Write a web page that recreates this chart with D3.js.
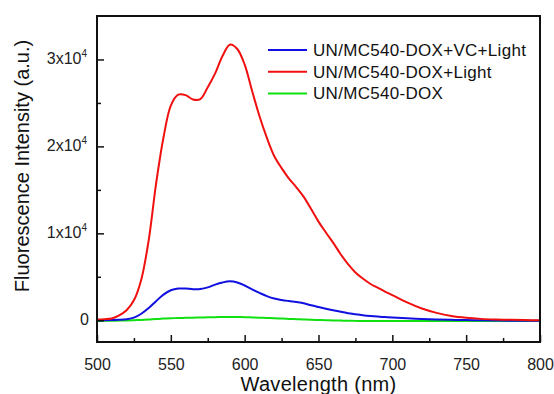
<!DOCTYPE html>
<html>
<head>
<meta charset="utf-8">
<script src="https://cdn.jsdelivr.net/npm/d3@7"></script>
<style>
  body { margin: 0; background: #fff; }
  svg { display: block; font-family: "Liberation Sans", Arial, sans-serif; }
</style>
</head>
<body>
<script>
const wavelengths = [500,505,510,515,520,525,530,535,540,545,550,555,560,565,570,575,580,585,590,595,
  600,605,610,615,620,625,630,635,640,645,650,655,660,665,670,675,680,685,690,695,700,
  710,720,730,740,750,760,770,780,790,800];

const redValues = [80,120,200,550,1150,2300,4700,9200,15700,21000,24700,25950,25900,25400,25450,26800,28400,30400,31700,31200,
  29400,26400,23500,21000,18900,17500,16300,15300,14200,12800,11350,10100,8900,7600,6450,5500,4800,4200,3750,3300,2900,
  2050,1350,850,500,290,160,90,50,20,0];

const blueValues = [0,0,20,50,120,300,750,1400,2200,2950,3450,3650,3650,3580,3600,3780,4100,4350,4480,4350,
  4000,3550,3150,2780,2500,2340,2210,2090,1950,1720,1520,1330,1150,970,810,690,580,490,420,370,320,
  220,150,90,50,20,0,-30,-50,-60,-60];

const greenValues = [-80,-70,-60,-40,-20,10,40,90,150,190,230,260,280,300,320,340,360,370,380,375,
  360,330,300,270,240,200,160,130,100,60,30,0,-20,-40,-60,-70,-80,-80,-80,-80,-80,
  -80,-80,-80,-80,-80,-80,-80,-80,-80,-80];

const seriesNames = ["UN/MC540-DOX+VC+Light", "UN/MC540-DOX+Light", "UN/MC540-DOX"];
const seriesColors = ["#1010e0", "#f01010", "#10e010"];
const seriesValues = [blueValues, redValues, greenValues];

const xMajorTicks = [500, 550, 600, 650, 700, 750, 800];
const xMinorTicks = [525, 575, 625, 675, 725, 775];
const yMajorTicks = [0, 10000, 20000, 30000];
const yMajorLabels = ["0", "1x10", "2x10", "3x10"];
const yMinorTicks = [5000, 15000, 25000];

const W = 554, H = 394;
const plot = { left: 97, right: 540, top: 16, bottom: 342 };

const svg = d3.select("body").append("svg")
  .attr("width", W)
  .attr("height", H);

const x = d3.scaleLinear().domain([500, 800]).range([plot.left, plot.right]);
const y = d3.scaleLinear().domain([-2500, 35000]).range([plot.bottom, plot.top]);

// curves (green under, red on top)
const line = d3.line()
  .x(d => x(d[0]))
  .y(d => y(d[1]))
  .curve(d3.curveCatmullRom.alpha(0.5));

[2, 0, 1].forEach(i => {
  svg.append("path")
    .datum(wavelengths.map((w, j) => [w, seriesValues[i][j]]))
    .attr("fill", "none")
    .attr("stroke", seriesColors[i])
    .attr("stroke-width", 2)
    .attr("stroke-linejoin", "round")
    .attr("d", line);
});

// frame
svg.append("rect")
  .attr("x", plot.left)
  .attr("y", plot.top)
  .attr("width", plot.right - plot.left)
  .attr("height", plot.bottom - plot.top)
  .attr("fill", "none")
  .attr("stroke", "#111")
  .attr("stroke-width", 2);

// x axis (ticks inward)
const xAxis = svg.append("g")
  .attr("transform", `translate(0,${plot.bottom})`)
  .call(d3.axisBottom(x).tickValues(xMajorTicks).tickSize(-7).tickPadding(17).tickFormat(d3.format("d")));
xAxis.select(".domain").remove();
xAxis.selectAll(".tick line").attr("stroke", "#111").attr("stroke-width", 1.5);
xAxis.selectAll(".tick text")
  .attr("font-size", 16)
  .attr("fill", "#222")
  .attr("font-family", "Liberation Sans, Arial, sans-serif");

const xMinor = svg.append("g")
  .attr("transform", `translate(0,${plot.bottom})`)
  .call(d3.axisBottom(x).tickValues(xMinorTicks).tickSize(-4).tickFormat(""));
xMinor.select(".domain").remove();
xMinor.selectAll(".tick line").attr("stroke", "#111").attr("stroke-width", 1.5);

// y axis (ticks inward)
const yAxis = svg.append("g")
  .attr("transform", `translate(${plot.left},0)`)
  .call(d3.axisLeft(y).tickValues(yMajorTicks).tickSize(-7).tickFormat(""));
yAxis.select(".domain").remove();
yAxis.selectAll(".tick line").attr("stroke", "#111").attr("stroke-width", 1.5);

const yMinor = svg.append("g")
  .attr("transform", `translate(${plot.left},0)`)
  .call(d3.axisLeft(y).tickValues(yMinorTicks).tickSize(-4).tickFormat(""));
yMinor.select(".domain").remove();
yMinor.selectAll(".tick line").attr("stroke", "#111").attr("stroke-width", 1.5);

// y tick labels with superscript exponent
yMajorTicks.forEach((v, i) => {
  const t = svg.append("text")
    .attr("x", v === 0 ? 89 : 87)
    .attr("y", y(v) + 5)
    .attr("text-anchor", "end")
    .attr("font-size", 16)
    .attr("fill", "#222")
    .text(yMajorLabels[i]);
  if (v !== 0) {
    t.append("tspan")
      .attr("dy", -7)
      .attr("font-size", 10)
      .text("4");
  }
});

// axis titles
svg.append("text")
  .attr("x", (plot.left + plot.right) / 2)
  .attr("y", 391)
  .attr("text-anchor", "middle")
  .attr("font-size", 20)
  .attr("letter-spacing", 0.3)
  .attr("fill", "#111")
  .text("Wavelength (nm)");

svg.append("text")
  .attr("transform", `translate(29,166) rotate(-90)`)
  .attr("text-anchor", "middle")
  .attr("font-size", 20)
  .attr("fill", "#111")
  .text("Fluorescence Intensity (a.u.)");

// legend
const legend = svg.append("g");
seriesNames.forEach((name, i) => {
  const ly = 50 + i * 21.7;
  legend.append("line")
    .attr("x1", 268).attr("x2", 307)
    .attr("y1", ly).attr("y2", ly)
    .attr("stroke", seriesColors[i])
    .attr("stroke-width", 2);
  legend.append("text")
    .attr("x", 313)
    .attr("y", ly + 6)
    .attr("font-size", 17)
    .attr("letter-spacing", 0.3)
    .attr("fill", "#111")
    .text(name);
});
</script>
</body>
</html>
